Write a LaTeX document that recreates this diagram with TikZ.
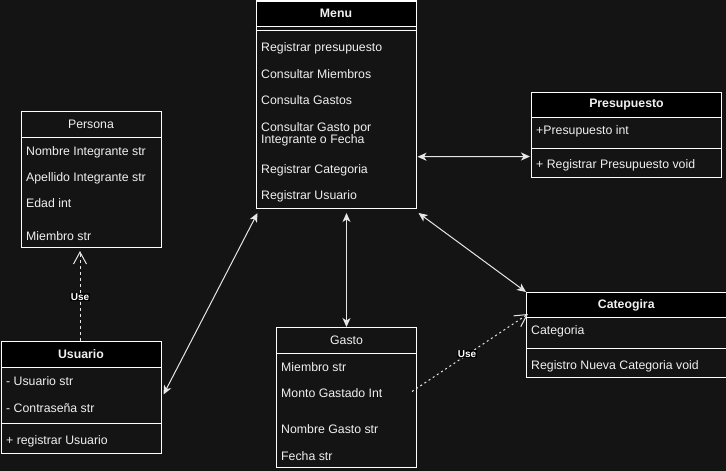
\documentclass[tikz,border=0pt]{standalone}
\usepackage{fontspec}
\setmainfont{Liberation Sans}
\usetikzlibrary{arrows.meta,calc}
\definecolor{bg}{HTML}{141414}
\definecolor{fg}{HTML}{F0F0F0}
\definecolor{ln}{HTML}{E6E6E6}
\tikzset{
  box/.style={draw=white, line width=1pt, anchor=north west, inner sep=0pt, text=fg},
  hdr/.style={box, fill=black, font=\fontsize{12.3}{14}\selectfont\bfseries},
  plainhdr/.style={box, font=\fontsize{12.3}{14}\selectfont},
  item/.style={anchor=west, text=fg, inner sep=0pt, align=left, yshift=-1pt},
  divider/.style={draw=white, line width=1pt},
  assoc/.style={draw=ln, line width=1pt, {Stealth[length=9pt,width=8pt,inset=2.5pt]}-{Stealth[length=9pt,width=8pt,inset=2.5pt]}},
  usearrow/.style={draw=ln, line width=1pt, -{Straight Barb[length=12pt,width=13pt]}},
  uselabel/.style={fill=black, text=white, inner sep=1pt, font=\fontsize{10}{12}\selectfont\bfseries}
}
\begin{document}
\begin{tikzpicture}[x=1pt,y=-1pt, font=\fontsize{12.3}{14}\selectfont]
\fill[bg] (0,0) rectangle (726,471);
\useasboundingbox (0,0) rectangle (726,471);

% Menu
\node[box, minimum width=160, minimum height=207.5] (menu) at (255.5,0.5) {};
\node[hdr, minimum width=160, minimum height=25.5] (menuh) at (255.5,0.5) {Menu};
\draw[divider] (255.5,30) -- (415.5,30);
\node[item] (m1) at (261,47) {Registrar presupuesto};
\node[item] (m2) at (261,73) {Consultar Miembros};
\node[item] (m3) at (261,99) {Consulta Gastos};
\node[item] (m4) at (261,133.5) {Consultar Gasto por\\[-1.5pt]Integrante o Fecha};
\node[item] (m5) at (261,169) {Registrar Categoria};
\node[item] (m6) at (261,195) {Registrar Usuario};

% Persona
\node[box, minimum width=140, minimum height=136] (per) at (20.5,111) {};
\node[plainhdr, minimum width=140, minimum height=26] (perh) at (20.5,111) {Persona};
\node[item] (p1) at (26,151) {Nombre Integrante str};
\node[item] (p2) at (26,177) {Apellido Integrante str};
\node[item] (p3) at (26,202) {Edad int};
\node[item] (p4) at (26,235) {Miembro str};

% Usuario
\node[box, minimum width=160, minimum height=112] (usu) at (0.5,341) {};
\node[hdr, minimum width=160, minimum height=26] (usuh) at (0.5,341) {Usuario};
\node[item] (u1) at (6,380) {- Usuario str};
\node[item] (u2) at (6,407) {- Contraseña str};
\draw[divider] (0.5,423) -- (160.5,423);
\node[item] (u3) at (6,440) {+ registrar Usuario};

% Gasto
\node[box, minimum width=140, minimum height=140] (gas) at (276,327) {};
\node[plainhdr, minimum width=140, minimum height=26] (gash) at (276,327) {Gasto};
\node[item] (g1) at (281,366) {Miembro str};
\node[item] (g2) at (281,392) {Monto Gastado Int};
\node[item] (g3) at (281,428) {Nombre Gasto str};
\node[item] (g4) at (281,455) {Fecha str};

% Presupuesto
\node[box, minimum width=190, minimum height=85] (pre) at (531,92) {};
\node[hdr, minimum width=190, minimum height=25] (preh) at (531,92) {Presupuesto};
\node[item] (r1) at (536,130) {+Presupuesto int};
\draw[divider] (531,148) -- (721,148);
\node[item] (r2) at (536,164) {+ Registrar Presupuesto void};

% Cateogira
\node[box, minimum width=199.5, minimum height=85] (cat) at (526,292) {};
\node[hdr, minimum width=199.5, minimum height=25] (cath) at (526,292) {Cateogira};
\node[item] (c1) at (531,330) {Categoria};
\draw[divider] (526,348) -- (725.5,348);
\node[item] (c2) at (531,365) {Registro Nueva Categoria void};

% Connectors
\draw[assoc] ($(menu.east)+(1,52)$) -- ($(pre.west)+(-1,21.5)$);
\draw[assoc] ($(menu.south)+(10.5,4)$) -- (gas.north);
\draw[assoc] ($(menu.south east)+(2,4)$) -- (cat.north west);
\draw[assoc] ($(usu.east)+(2,-3)$) -- ($(menu.south west)+(2,4)$);

\draw[usearrow, dash pattern=on 3pt off 3pt] (usu.north -| 80,0) -- ($(per.south -| 80,0)+(0,3)$);
\node[uselabel] (use1) at (80,297) {Use};

\draw[usearrow, dash pattern=on 2pt off 3pt] ($(gas.east)+(-5,-6)$) -- ($(cat.north west)+(2,22)$);
\node[uselabel] (use2) at (467,354) {Use};
\end{tikzpicture}
\end{document}
